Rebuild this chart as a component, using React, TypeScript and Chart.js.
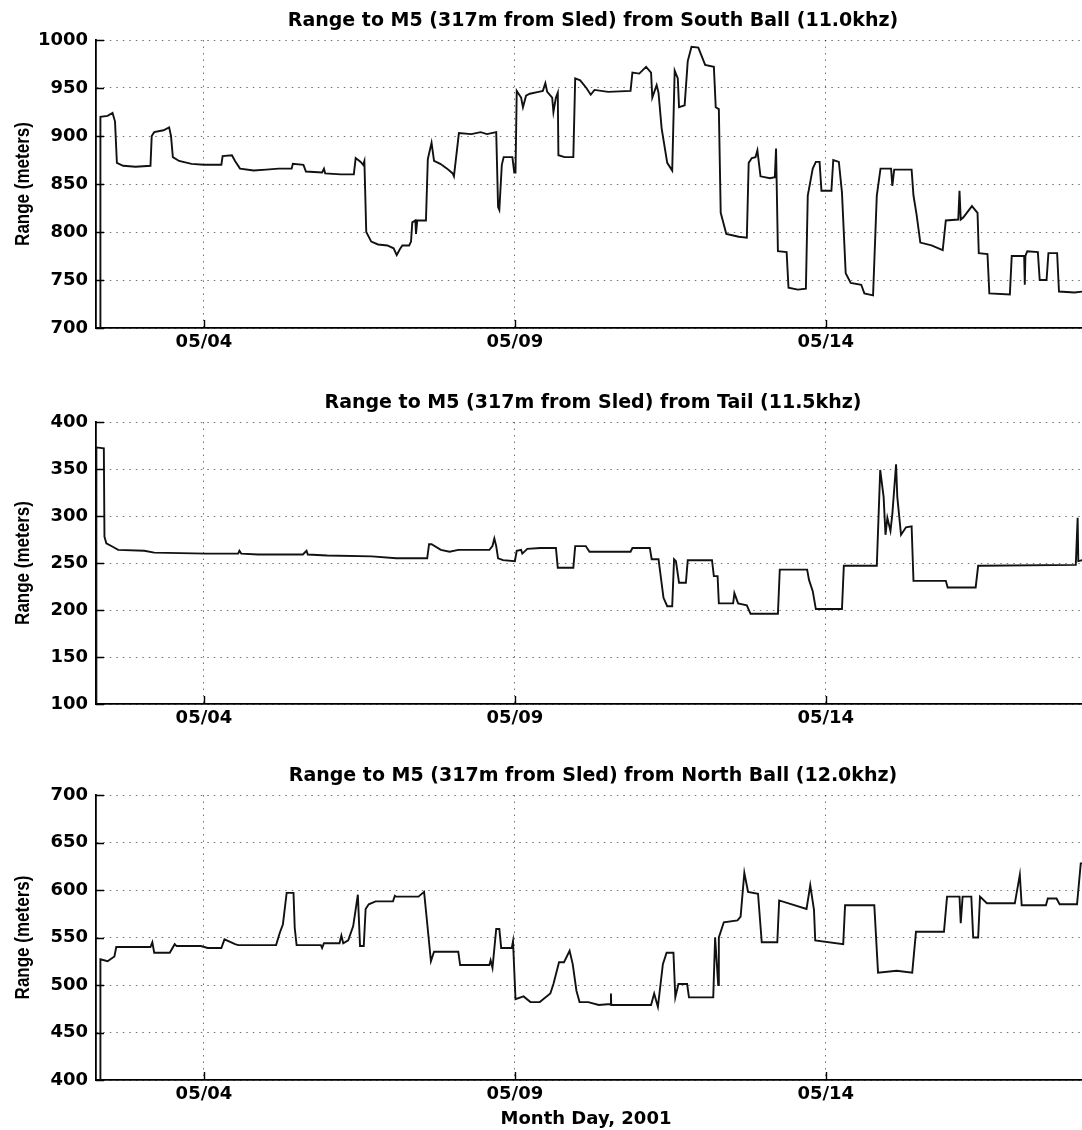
import React, { useEffect, useRef } from 'react';
import { Chart, registerables } from 'chart.js';

Chart.register(...registerables);

// ---- shared axis data ----
const xTickValues = [4, 9, 14];
const xTickLabels = ['05/04', '05/09', '05/14'];
const xMinDay = 2.264;
const xMaxDay = 18.12;
const xAxisTitle = 'Month Day, 2001';
const yAxisTitle = 'Range (meters)';

// ---- South Ball (11.0 kHz) ----
const southTitle = 'Range to M5 (317m from Sled) from South Ball (11.0khz)';
const southDays = [2.33, 2.335, 2.45, 2.53, 2.57, 2.60, 2.70, 2.90, 3.14, 3.16,
  3.20, 3.35, 3.44, 3.47, 3.50, 3.60, 3.80, 4.00, 4.28, 4.30,
  4.45, 4.50, 4.58, 4.80, 5.00, 5.20, 5.41, 5.43, 5.60, 5.64,
  5.90, 5.93, 5.95, 6.20, 6.41, 6.44, 6.52, 6.56, 6.58, 6.61,
  6.69, 6.80, 6.95, 7.05, 7.10, 7.15, 7.19, 7.30, 7.33, 7.35,
  7.40, 7.41, 7.43, 7.57, 7.60, 7.66, 7.70, 7.80, 7.91, 8.00,
  8.02, 8.10, 8.30, 8.45, 8.55, 8.70, 8.73, 8.75, 8.79, 8.82,
  8.96, 8.99, 9.01, 9.03, 9.10, 9.13, 9.18, 9.24, 9.38, 9.45,
  9.49, 9.52, 9.60, 9.62, 9.66, 9.69, 9.70, 9.80, 9.94, 9.97,
  10.05, 10.15, 10.22, 10.28, 10.50, 10.86, 10.89, 11.00, 11.11, 11.19,
  11.21, 11.28, 11.31, 11.36, 11.45, 11.53, 11.57, 11.62, 11.64, 11.73,
  11.78, 11.84, 11.95, 12.06, 12.20, 12.23, 12.28, 12.31, 12.40, 12.60,
  12.73, 12.76, 12.81, 12.87, 12.90, 12.95, 13.10, 13.18, 13.20, 13.23,
  13.37, 13.40, 13.55, 13.68, 13.71, 13.79, 13.84, 13.90, 13.93, 14.09,
  14.12, 14.21, 14.26, 14.32, 14.40, 14.57, 14.62, 14.76, 14.82, 14.88,
  15.05, 15.07, 15.10, 15.38, 15.41, 15.46, 15.52, 15.70, 15.88, 15.93,
  16.13, 16.15, 16.17, 16.21, 16.35, 16.44, 16.46, 16.60, 16.63, 16.96,
  16.99, 17.19, 17.20, 17.21, 17.24, 17.41, 17.44, 17.55, 17.58, 17.72,
  17.75, 18.00, 18.13];
const southMeters = [700, 920, 921, 924, 915, 872, 869, 868, 869, 900,
  904, 906, 909, 900, 878, 874, 871, 870, 870, 879,
  880, 874, 866, 864, 865, 866, 866, 871, 870, 863,
  862, 866, 861, 860, 860, 877, 873, 870, 874, 800,
  790, 787, 786, 783, 776, 782, 786, 786, 790, 810,
  812, 798, 812, 812, 876, 893, 874, 871, 866, 861,
  858, 903, 902, 904, 902, 904, 826, 823, 870, 878,
  878, 862, 862, 947, 940, 930, 942, 944, 946, 947,
  955, 946, 940, 925, 940, 945, 880, 878, 878, 960,
  958, 950, 943, 948, 946, 947, 966, 965, 972, 966,
  940, 953, 945, 908, 872, 864, 968, 960, 930, 932,
  978, 993, 992, 974, 972, 930, 928, 820, 798, 795,
  794, 872, 877, 878, 885, 858, 856, 857, 887, 780,
  779, 742, 740, 741, 838, 866, 873, 873, 843, 843,
  875, 873, 841, 757, 747, 745, 736, 734, 838, 866,
  866, 848, 865, 865, 838, 818, 789, 786, 781, 812,
  813, 843, 813, 815, 827, 820, 778, 777, 736, 735,
  775, 775, 745, 775, 780, 779, 750, 750, 778, 778,
  738, 737, 738];
const southYMin = 700;
const southYMax = 1000;

// ---- Tail (11.5 kHz) ----
const tailTitle = 'Range to M5 (317m from Sled) from Tail (11.5khz)';
const tailDays = [2.268, 2.27, 2.39, 2.40, 2.43, 2.54, 2.62, 3.04, 3.20, 4.04,
  4.55, 4.57, 4.60, 4.87, 5.59, 5.65, 5.67, 5.98, 6.70, 7.09,
  7.59, 7.62, 7.66, 7.81, 7.95, 8.09, 8.59, 8.64, 8.67, 8.70,
  8.73, 8.81, 9.00, 9.03, 9.10, 9.12, 9.20, 9.41, 9.66, 9.69,
  9.94, 9.97, 10.14, 10.20, 10.86, 10.89, 11.17, 11.20, 11.31, 11.39,
  11.45, 11.53, 11.56, 11.59, 11.64, 11.75, 11.78, 12.17, 12.20, 12.26,
  12.28, 12.51, 12.53, 12.59, 12.73, 12.79, 13.23, 13.26, 13.70, 13.73,
  13.79, 13.84, 14.26, 14.29, 14.82, 14.875, 14.93, 14.96, 14.99, 15.04,
  15.07, 15.13, 15.15, 15.21, 15.29, 15.38, 15.41, 15.93, 15.96, 16.41,
  16.45, 16.49, 18.02, 18.05, 18.06, 18.13];
const tailMeters = [100, 373, 372, 278, 271, 267, 264, 263, 261, 260,
  260, 263, 260, 259, 259, 263, 259, 258, 257, 255,
  255, 270, 270, 264, 262, 264, 264, 268, 276, 268,
  255, 253, 252, 263, 264, 260, 265, 266, 266, 245,
  245, 268, 268, 262, 262, 266, 266, 254, 254, 213,
  204, 204, 254, 252, 229, 229, 253, 253, 236, 236,
  207, 207, 218, 207, 205, 196, 196, 243, 243, 232,
  220, 201, 201, 247, 247, 349, 320, 280, 298, 284,
  302, 355, 320, 280, 288, 289, 231, 231, 224, 224,
  247, 247, 248, 298, 252, 253];
const tailYMin = 100;
const tailYMax = 400;

// ---- North Ball (12.0 kHz) ----
const northTitle = 'Range to M5 (317m from Sled) from North Ball (12.0khz)';
const northDays = [2.33, 2.335, 2.45, 2.56, 2.59, 3.14, 3.17, 3.20, 3.45, 3.53,
  3.56, 3.95, 4.06, 4.28, 4.33, 4.50, 4.55, 5.16, 5.22, 5.27,
  5.33, 5.44, 5.46, 5.49, 5.88, 5.90, 5.93, 6.18, 6.21, 6.24,
  6.32, 6.40, 6.475, 6.51, 6.57, 6.60, 6.65, 6.76, 7.04, 7.07,
  7.09, 7.45, 7.54, 7.59, 7.65, 7.70, 8.09, 8.12, 8.59, 8.61,
  8.64, 8.70, 8.75, 8.78, 8.95, 8.97, 9.01, 9.14, 9.25, 9.40,
  9.57, 9.62, 9.71, 9.79, 9.88, 9.93, 9.99, 10.04, 10.18, 10.35,
  10.54, 10.545, 10.55, 11.19, 11.24, 11.30, 11.38, 11.44, 11.55, 11.58,
  11.63, 11.77, 11.80, 12.19, 12.22, 12.27, 12.28, 12.36, 12.58, 12.63,
  12.69, 12.75, 12.91, 12.97, 13.22, 13.25, 13.69, 13.75, 13.81, 13.83,
  14.28, 14.31, 14.78, 14.84, 15.14, 15.39, 15.45, 15.90, 15.95, 16.15,
  16.17, 16.20, 16.34, 16.37, 16.45, 16.48, 16.59, 17.04, 17.12, 17.15,
  17.54, 17.57, 17.71, 17.76, 18.04, 18.10, 18.13];
const northMeters = [400, 527, 525, 530, 540, 540, 545, 534, 534, 543,
  541, 541, 539, 539, 548, 543, 542, 542, 555, 564,
  597, 597, 560, 542, 542, 539, 544, 544, 552, 544,
  547, 562, 595, 541, 541, 580, 585, 588, 588, 594,
  593, 593, 598, 565, 525, 535, 535, 521, 521, 526,
  518, 559, 559, 539, 539, 546, 485, 488, 482, 482,
  491, 501, 524, 524, 536, 522, 494, 482, 482, 479,
  480, 491, 479, 479, 491, 477, 522, 534, 534, 487,
  501, 501, 487, 487, 550, 500, 550, 566, 568, 572,
  618, 598, 596, 545, 545, 589, 580, 605, 579, 547,
  543, 584, 584, 513, 515, 513, 556, 556, 593, 593,
  565, 593, 593, 550, 550, 593, 586, 586, 616, 584,
  584, 591, 591, 585, 585, 628, 628];
const northYMin = 400;
const northYMax = 700;

const TICK_FONT = 'DejaVu Sans';
const LABEL_FONT = 'Liberation Sans';

type PanelProps = {
  top: number;
  height: number;
  padTop: number;
  xHeight: number;
  title: string;
  days: number[];
  meters: number[];
  yMin: number;
  yMax: number;
  showXTitle: boolean;
};

function Panel(props: PanelProps) {
  const ref = useRef<HTMLCanvasElement>(null);
  useEffect(() => {
    const decor = {
      id: 'decor',
      afterDraw(chart: any) {
        const { ctx, chartArea, scales } = chart;
        ctx.save();
        // inside tick marks
        ctx.strokeStyle = '#000';
        ctx.lineWidth = 1.4;
        ctx.setLineDash([]);
        ctx.beginPath();
        scales.y.ticks.forEach((t: any) => {
          const y = Math.round(scales.y.getPixelForValue(t.value)) + 0.5;
          ctx.moveTo(chartArea.left, y);
          ctx.lineTo(chartArea.left + 8, y);
        });
        scales.x.ticks.forEach((t: any) => {
          const x = Math.round(scales.x.getPixelForValue(t.value)) + 0.5;
          ctx.moveTo(x, chartArea.bottom);
          ctx.lineTo(x, chartArea.bottom - 8);
        });
        ctx.stroke();
        // title
        ctx.fillStyle = '#000';
        ctx.font = `bold 19px "${TICK_FONT}"`;
        ctx.textAlign = 'center';
        ctx.textBaseline = 'middle';
        ctx.fillText(props.title, (chartArea.left + chartArea.right) / 2 + 4, chartArea.top - 19);
        // y axis title (slightly widened like the scanned original)
        ctx.save();
        ctx.translate(23, (chartArea.top + chartArea.bottom) / 2);
        ctx.rotate(-Math.PI / 2);
        ctx.scale(1, 1.22);
        ctx.font = `bold 17px "${LABEL_FONT}"`;
        ctx.fillText(yAxisTitle, 0, 0);
        ctx.restore();
        // x axis title
        if (props.showXTitle) {
          ctx.font = `bold 18px "${TICK_FONT}"`;
          ctx.fillText(xAxisTitle, (chartArea.left + chartArea.right) / 2 - 3, chartArea.bottom + 39);
        }
        ctx.restore();
      },
    };

    const chart = new Chart(ref.current as HTMLCanvasElement, {
      type: 'line',
      data: {
        datasets: [
          {
            data: props.days.map((d, i) => ({ x: d, y: props.meters[i] })),
            borderColor: '#111',
            borderWidth: 1.9,
            pointRadius: 0,
            tension: 0,
            fill: false,
          },
        ],
      },
      options: {
        animation: false,
        responsive: false,
        maintainAspectRatio: false,
        layout: { padding: { top: props.padTop, left: 0, right: 0, bottom: 0 } },
        plugins: {
          legend: { display: false },
          tooltip: { enabled: false },
          title: { display: false },
        },
        scales: {
          x: {
            type: 'linear',
            min: xMinDay,
            max: xMaxDay,
            afterFit: (s: any) => {
              s.height = props.xHeight;
            },
            afterBuildTicks: (s: any) => {
              s.ticks = xTickValues.map((v) => ({ value: v }));
            },
            ticks: {
              autoSkip: false,
              maxRotation: 0,
              padding: 4,
              color: '#000',
              font: { family: TICK_FONT, size: 18, weight: 'bold' },
              callback: (v: any) => {
                const i = xTickValues.indexOf(Number(v));
                return i >= 0 ? xTickLabels[i] : '';
              },
            },
            grid: { color: 'rgba(0,0,0,0.55)', lineWidth: 1, drawTicks: false },
            border: { display: true, color: '#000', width: 1.8, dash: [1.5, 5] },
          },
          y: {
            type: 'linear',
            min: props.yMin,
            max: props.yMax,
            afterFit: (s: any) => {
              s.width = 96;
            },
            ticks: {
              stepSize: 50,
              autoSkip: false,
              padding: 8,
              color: '#000',
              font: { family: TICK_FONT, size: 18, weight: 'bold' },
              callback: (v: any) => String(v),
            },
            grid: { color: 'rgba(0,0,0,0.55)', lineWidth: 1, drawTicks: false },
            border: { display: true, color: '#000', width: 1.8, dash: [1.5, 5] },
          },
        },
      } as any,
      plugins: [decor],
    });
    return () => chart.destroy();
  }, []);
  return (
    <canvas
      ref={ref}
      width={1082}
      height={props.height}
      style={{ position: 'absolute', left: 0, top: props.top, width: 1082, height: props.height }}
    />
  );
}

export default function App() {
  return (
    <div style={{ position: 'absolute', left: 0, top: 0, width: 1082, height: 1130, background: '#fff', overflow: 'hidden' }}>
      <Panel top={0} height={370} padTop={40} xHeight={42} title={southTitle}
        days={southDays} meters={southMeters} yMin={southYMin} yMax={southYMax} showXTitle={false} />
      <Panel top={370} height={375} padTop={52} xHeight={41} title={tailTitle}
        days={tailDays} meters={tailMeters} yMin={tailYMin} yMax={tailYMax} showXTitle={false} />
      <Panel top={745} height={385} padTop={50} xHeight={50} title={northTitle}
        days={northDays} meters={northMeters} yMin={northYMin} yMax={northYMax} showXTitle={true} />
    </div>
  );
}
